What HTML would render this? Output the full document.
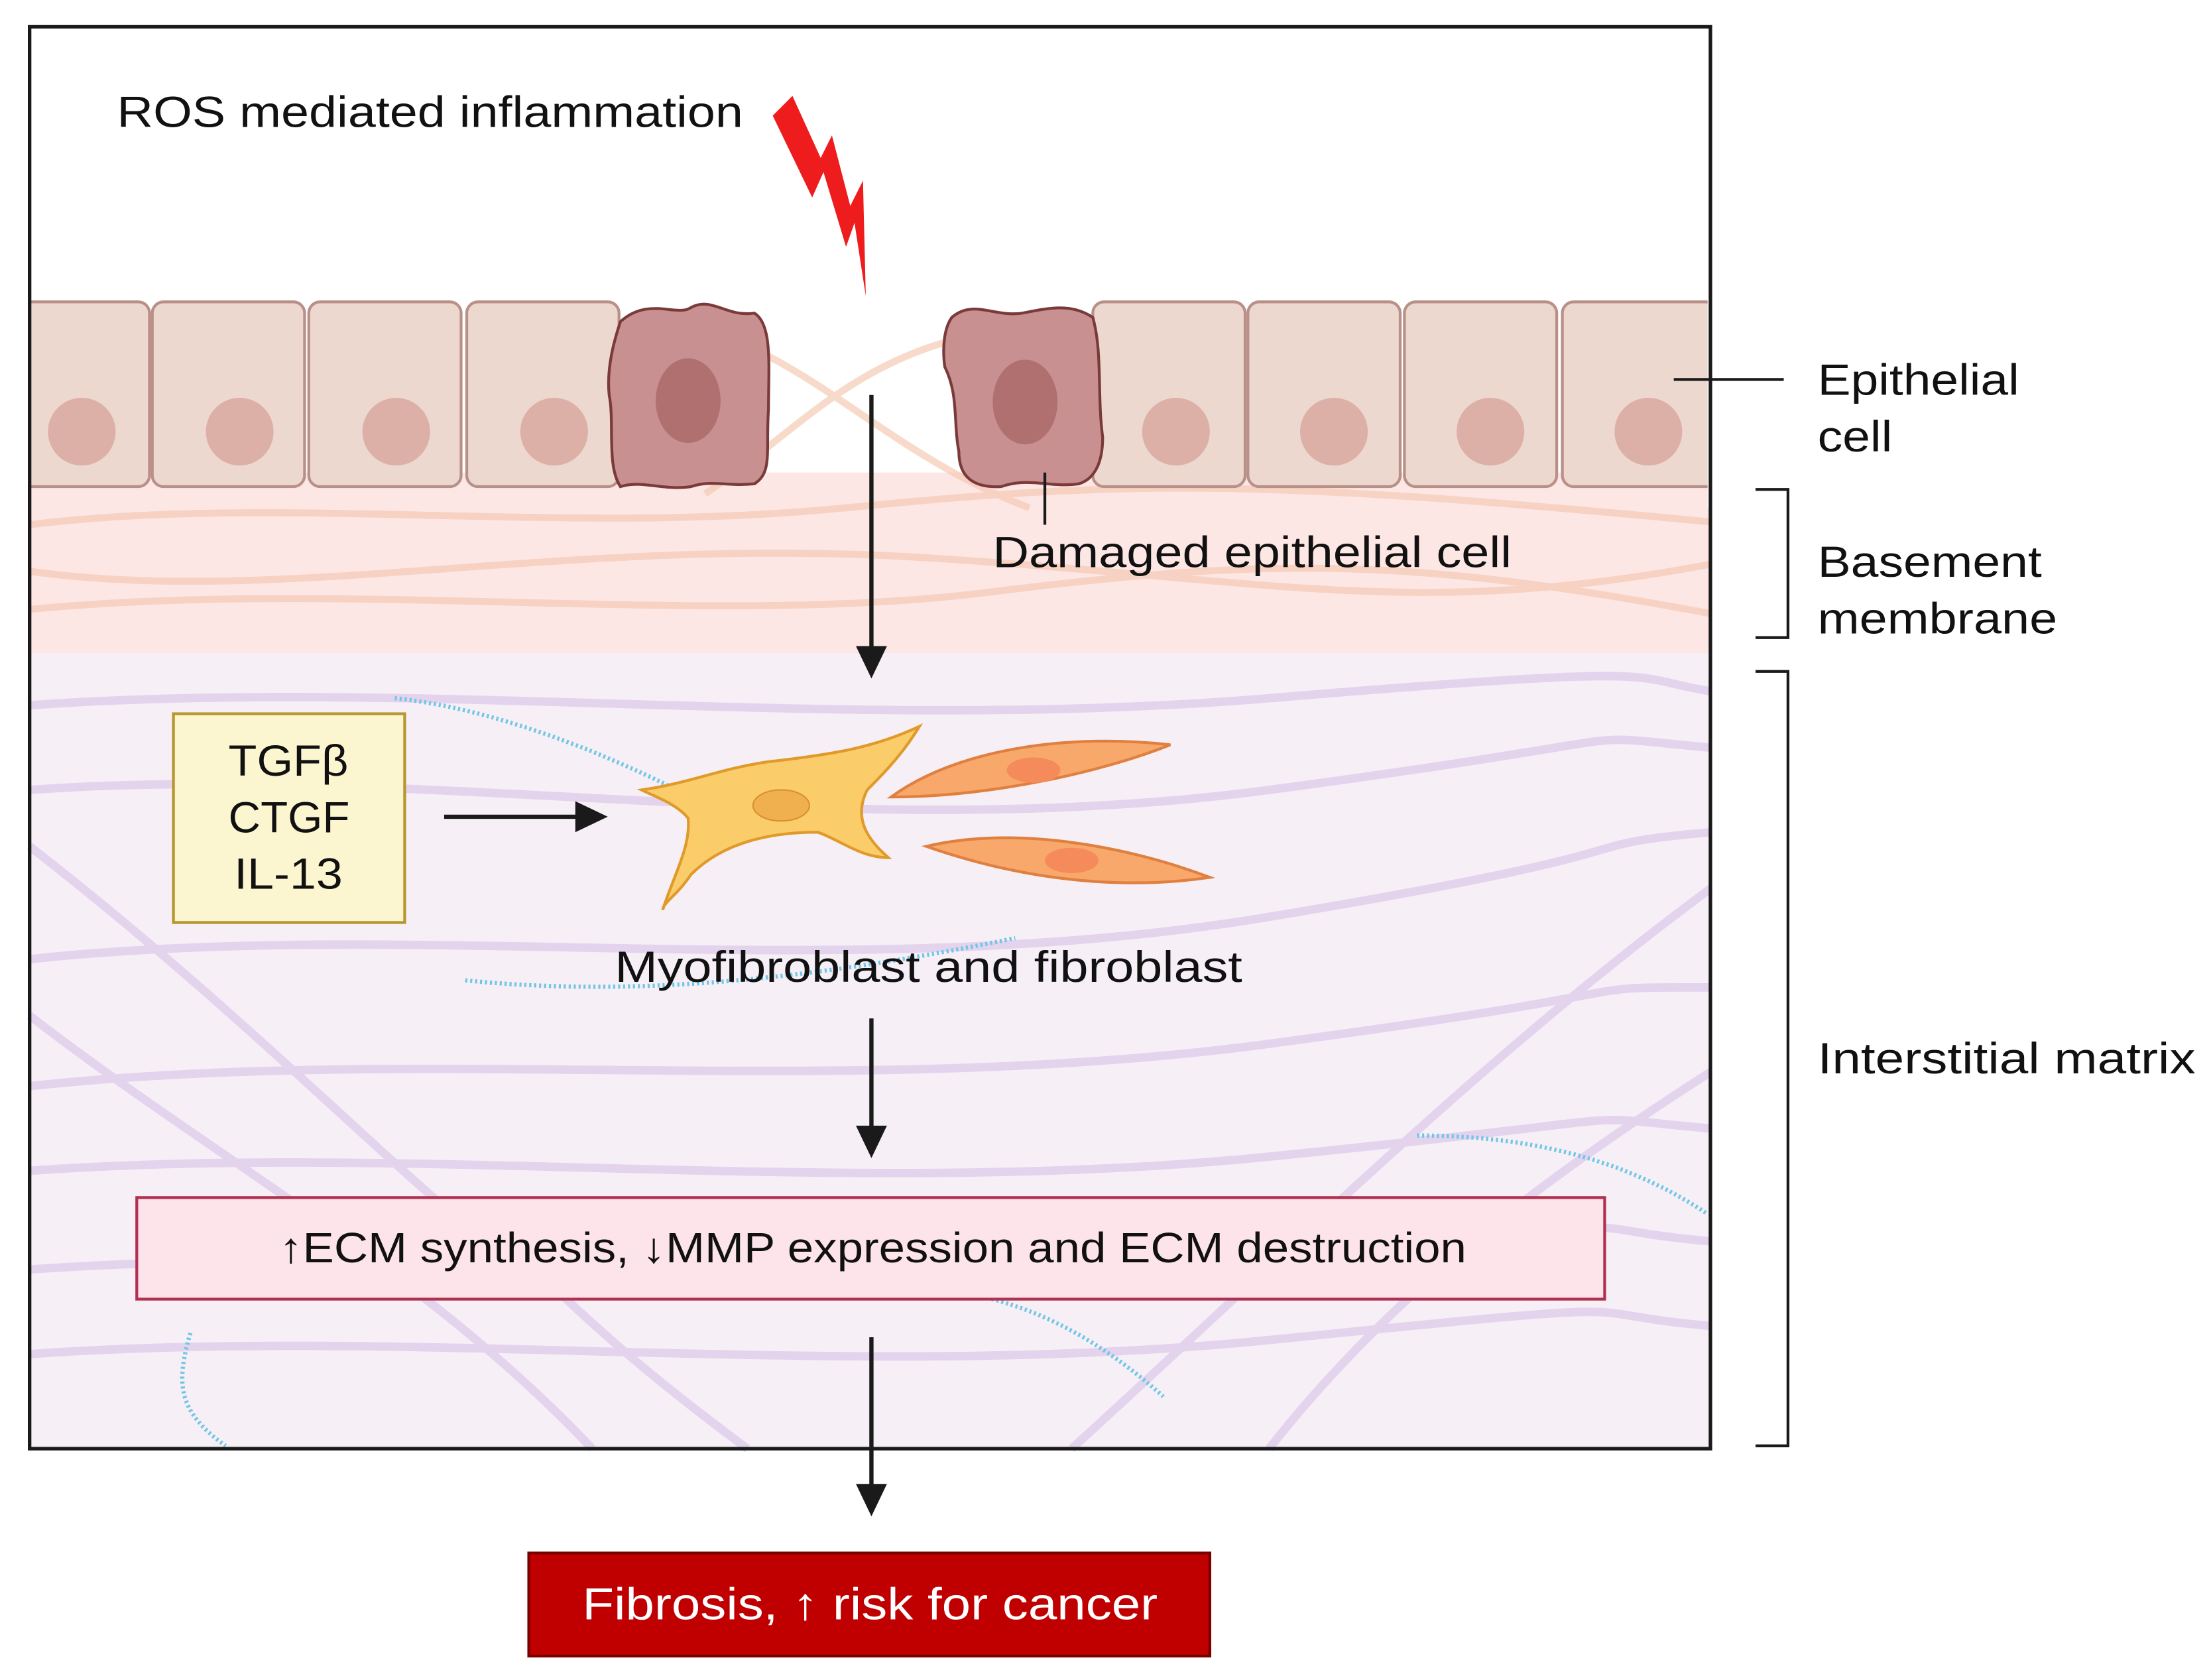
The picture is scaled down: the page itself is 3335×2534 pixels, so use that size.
<!DOCTYPE html>
<html><head><meta charset="utf-8"><style>
html,body{margin:0;padding:0;background:#fff;}
svg{display:block;}
text{font-family:"Liberation Sans",sans-serif;}
</style></head><body>
<svg width="3335" height="2534" viewBox="0 0 1568 1191" preserveAspectRatio="none" xmlns="http://www.w3.org/2000/svg">
<rect x="0" y="0" width="1568" height="1191" fill="#fff"/>
<rect x="21" y="335" width="1192" height="128" fill="#fde7e5"/>
<rect x="21" y="463" width="1192" height="564" fill="#f6eff6"/>
<g fill="none" stroke="#f5c7b0" stroke-width="5" opacity="0.65">
<path d="M21,372 C200,350 400,380 600,360 S900,340 1213,370"/>
<path d="M21,405 C200,430 400,380 650,395 S1000,440 1213,400"/>
<path d="M21,432 C250,410 500,445 700,420 S1000,395 1213,435"/>
<path d="M500,350 C560,310 600,260 680,240"/>
<path d="M540,250 C600,280 650,330 730,360"/>
</g>
<g fill="none" stroke="#dcc8ea" stroke-width="6" opacity="0.7">
<path d="M21,500 C300,480 600,520 900,495 S1150,480 1213,490"/>
<path d="M21,560 C300,540 600,600 900,560 S1100,520 1213,530"/>
<path d="M21,680 C300,650 600,700 900,650 S1100,600 1213,590"/>
<path d="M21,770 C300,740 600,780 900,740 S1100,700 1213,700"/>
<path d="M21,830 C300,810 600,850 900,820 S1100,790 1213,800"/>
<path d="M21,900 C300,880 600,920 900,890 S1100,870 1213,880"/>
<path d="M21,960 C300,940 600,980 900,950 S1100,930 1213,940"/>
<path d="M21,600 C150,700 250,800 320,860"/>
<path d="M21,720 C150,820 300,900 420,1027"/>
<path d="M380,900 C430,950 480,990 530,1027"/>
<path d="M760,1027 C900,900 1050,750 1213,630"/>
<path d="M900,1027 C1000,900 1120,820 1213,760"/>
</g>
<g fill="none" stroke="#6fc6e6" stroke-width="3" stroke-dasharray="1.5 2">
<path d="M280,495 C330,500 400,520 480,560"/>
<path d="M330,695 C430,705 550,700 720,665"/>
<path d="M1005,805 C1080,805 1150,820 1210,860"/>
<path d="M700,920 C740,930 780,950 825,990"/>
<path d="M135,945 C125,980 125,1000 160,1025"/>
</g>
<g fill="#ecd8cf" stroke="#b89088" stroke-width="2">
<rect x="14" y="214" width="92" height="131" rx="8"/>
<rect x="108" y="214" width="108" height="131" rx="8"/>
<rect x="219" y="214" width="108" height="131" rx="8"/>
<rect x="331" y="214" width="108" height="131" rx="8"/>
<rect x="775" y="214" width="108" height="131" rx="8"/>
<rect x="885" y="214" width="108" height="131" rx="8"/>
<rect x="996" y="214" width="108" height="131" rx="8"/>
<rect x="1108" y="214" width="110" height="131" rx="8"/>
</g>
<g fill="#dcb0a6">
<circle cx="58" cy="306" r="24"/><circle cx="170" cy="306" r="24"/><circle cx="281" cy="306" r="24"/><circle cx="393" cy="306" r="24"/>
<circle cx="834" cy="306" r="24"/><circle cx="946" cy="306" r="24"/><circle cx="1057" cy="306" r="24"/><circle cx="1169" cy="306" r="24"/>
</g>
<rect x="1211" y="200" width="20" height="160" fill="#fff"/>
<rect x="0" y="200" width="21" height="160" fill="#fff"/>
<g fill="#c89090" stroke="#7a3a3a" stroke-width="2">
<path d="M440,228 C460,210 480,225 490,218 C505,210 515,225 535,222 C548,230 545,260 545,290 C543,320 548,335 535,343 C515,345 505,340 490,345 C470,348 455,340 440,345 C430,330 436,300 432,280 C430,260 436,240 440,228 Z"/>
<path d="M675,225 C690,212 705,225 725,222 C745,218 760,215 775,225 C782,250 778,280 782,310 C782,330 775,340 765,343 C745,346 730,338 710,345 C690,346 680,338 680,320 C676,300 680,280 670,260 C668,245 670,232 675,225 Z"/>
</g>
<ellipse cx="488" cy="284" rx="23" ry="30" fill="#b07070"/>
<ellipse cx="727" cy="285" rx="23" ry="30" fill="#b07070"/>
<path d="M562,68 L548,82 L576,140 L584,122 L600,175 L606,158 L614,210 L612,128 L603,146 L590,96 L582,112 Z" fill="#ee1c1c"/>
<rect x="21" y="19" width="1192" height="1008" fill="none" stroke="#1a1a1a" stroke-width="2.5"/>
<text x="83" y="90" font-size="31" fill="#111" textLength="444" lengthAdjust="spacingAndGlyphs">ROS mediated inflammation</text>
<g stroke="#1a1a1a" stroke-width="3" fill="none">
<line x1="618" y1="280" x2="618" y2="462"/>
<line x1="315" y1="579" x2="412" y2="579"/>
<line x1="618" y1="722" x2="618" y2="802"/>
<line x1="618" y1="948" x2="618" y2="1056"/>
</g>
<g fill="#1a1a1a">
<path d="M607,458 L629,458 L618,481 Z"/>
<path d="M408,568 L408,590 L431,579 Z"/>
<path d="M607,798 L629,798 L618,821 Z"/>
<path d="M607,1052 L629,1052 L618,1075 Z"/>
</g>
<line x1="741" y1="335" x2="741" y2="372" stroke="#1a1a1a" stroke-width="2"/>
<text x="704" y="402" font-size="31" fill="#111" textLength="368" lengthAdjust="spacingAndGlyphs">Damaged epithelial cell</text>
<rect x="123" y="506" width="164" height="148" fill="#fbf5d0" stroke="#b8962e" stroke-width="2"/>
<g font-size="31" fill="#111">
<text x="162" y="550" textLength="85" lengthAdjust="spacingAndGlyphs">TGFβ</text>
<text x="162" y="590" textLength="86" lengthAdjust="spacingAndGlyphs">CTGF</text>
<text x="166" y="630" textLength="77" lengthAdjust="spacingAndGlyphs">IL-13</text>
</g>
<path d="M455,560 C490,555 510,545 545,540 C590,535 620,530 652,515 C640,535 625,550 615,560 C605,580 615,595 630,608 C610,608 595,595 580,590 C540,590 510,600 490,620 C480,635 470,640 470,645 C478,620 490,600 488,580 C480,570 465,565 455,560 Z" fill="#fbcd6a" stroke="#e09a2a" stroke-width="2"/>
<ellipse cx="554" cy="571" rx="20" ry="11" fill="#f0b050" stroke="#d89030"/>
<path d="M632,565 C680,530 760,520 830,528 C780,548 700,565 632,565 Z" fill="#f7a86a" stroke="#e08040" stroke-width="2"/>
<ellipse cx="733" cy="546" rx="19" ry="9" fill="#f58a5a"/>
<path d="M657,600 C720,585 800,600 858,622 C790,632 720,622 657,600 Z" fill="#f7a86a" stroke="#e08040" stroke-width="2"/>
<ellipse cx="760" cy="610" rx="19" ry="9" fill="#f58a5a"/>
<text x="436" y="696" font-size="31" fill="#111" textLength="445" lengthAdjust="spacingAndGlyphs">Myofibroblast and fibroblast</text>
<rect x="97" y="849" width="1041" height="72" fill="#fde4ea" stroke="#b03050" stroke-width="2"/>
<text x="198" y="895" font-size="30" fill="#111" textLength="842" lengthAdjust="spacingAndGlyphs">↑ECM synthesis, ↓MMP expression and ECM destruction</text>
<rect x="375" y="1101" width="483" height="73" fill="#c00000" stroke="#7a0000" stroke-width="2"/>
<text x="413" y="1148" font-size="32" fill="#fff" textLength="408" lengthAdjust="spacingAndGlyphs">Fibrosis, ↑ risk for cancer</text>
<line x1="1187" y1="269" x2="1265" y2="269" stroke="#1a1a1a" stroke-width="2"/>
<g font-size="31" fill="#111">
<text x="1289" y="280" textLength="143" lengthAdjust="spacingAndGlyphs">Epithelial</text><text x="1289" y="320" textLength="53" lengthAdjust="spacingAndGlyphs">cell</text>
<text x="1289" y="409" textLength="159" lengthAdjust="spacingAndGlyphs">Basement</text><text x="1289" y="449" textLength="170" lengthAdjust="spacingAndGlyphs">membrane</text>
<text x="1289" y="761" textLength="268" lengthAdjust="spacingAndGlyphs">Interstitial matrix</text>
</g>
<path d="M1245,347 H1268 V452 H1245" fill="none" stroke="#1a1a1a" stroke-width="2"/>
<path d="M1245,476 H1268 V1025 H1245" fill="none" stroke="#1a1a1a" stroke-width="2"/>
</svg>
</body></html>
